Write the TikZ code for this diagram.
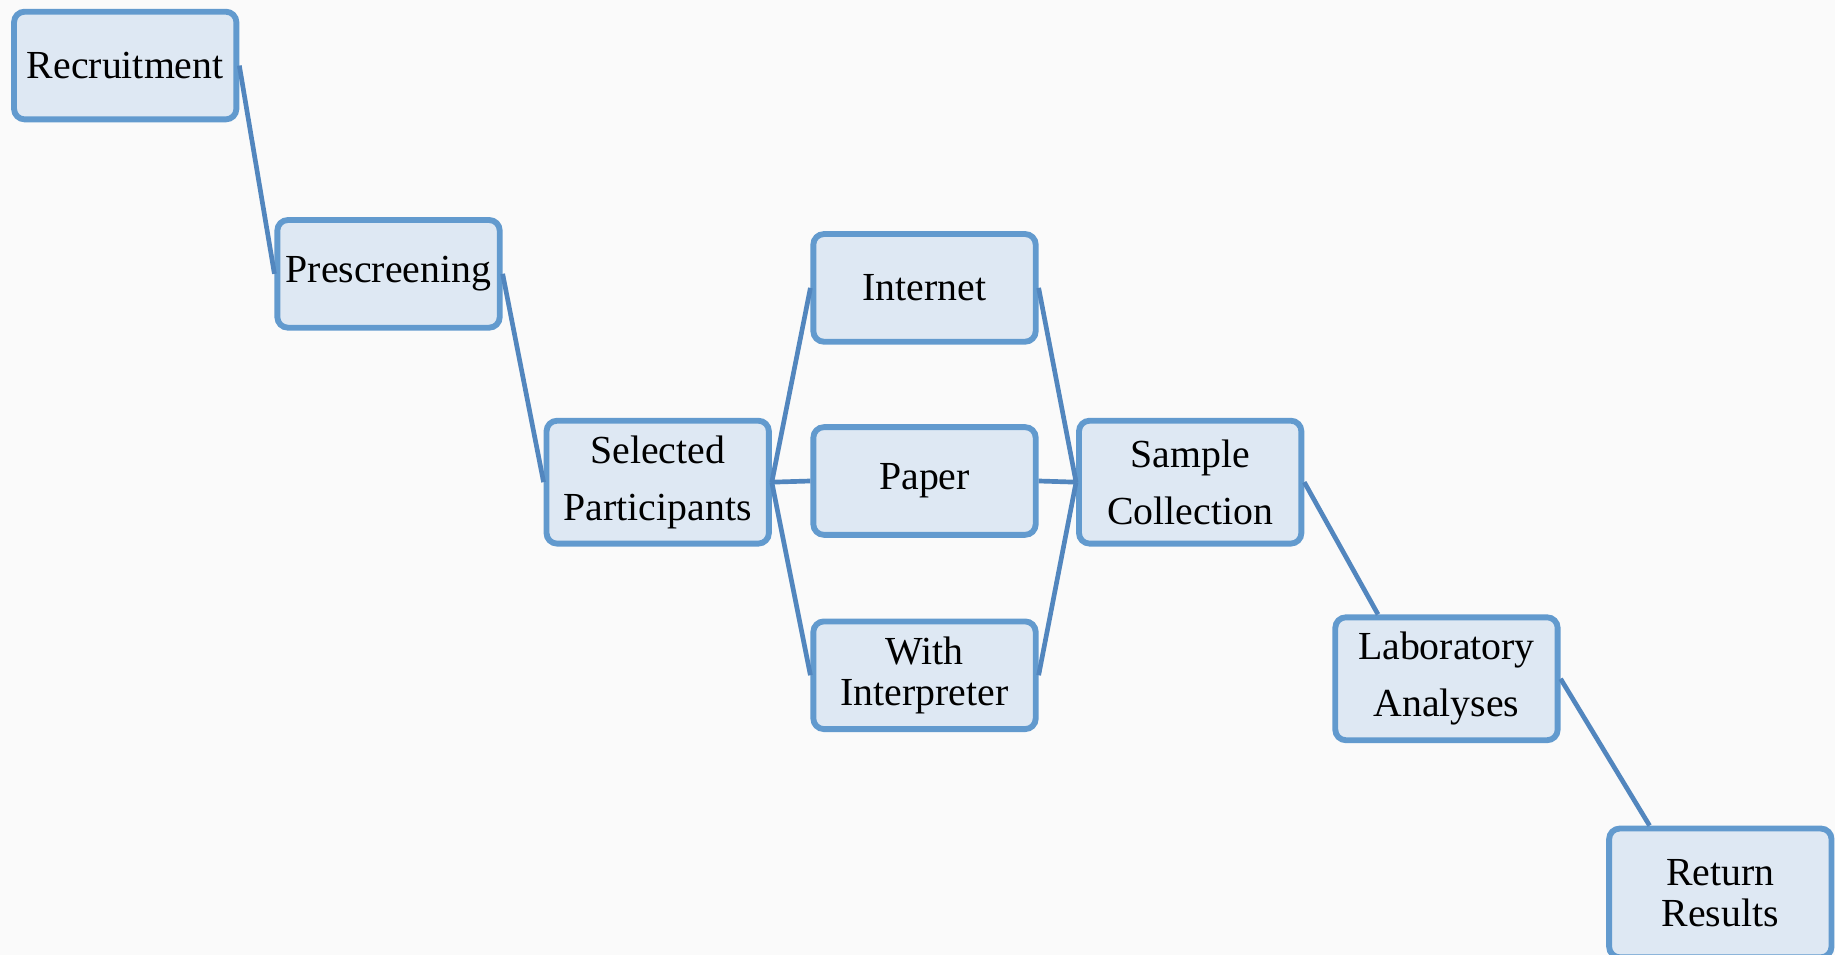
\documentclass[tikz,border=0pt]{standalone}
\usepackage{fontspec}
\setmainfont{Liberation Serif}
\usetikzlibrary{calc}
\definecolor{boxfill}{RGB}{222,232,243}
\definecolor{boxline}{RGB}{98,154,206}
\definecolor{conn}{RGB}{82,134,190}
\definecolor{bg}{RGB}{250,250,250}
\begin{document}
\begin{tikzpicture}[x=1pt,y=-1pt,
  box/.style={draw=boxline, fill=boxfill, line width=5pt, rounded corners=9pt,
    minimum width=190pt, minimum height=92pt, inner sep=0pt, align=center,
    font=\fontsize{34}{49}\selectfont},
  tall/.style={minimum height=105pt},
  tight/.style={font=\fontsize{34}{35}\selectfont},
  link/.style={draw=conn, line width=4pt}]
\fill[bg] (0,0) rectangle (1568,816);
\useasboundingbox (0,0) rectangle (1568,816);
\clip (0,0) rectangle (1568,816);
\node[box] (rec) at (107,56) {Recruitment};
\node[box] (pre) at (332,234) {Prescreening};
\node[box,tall] (sel) at (562,412) {Selected\\Participants};
\node[box] (int) at (790,246) {Internet};
\node[box] (pap) at (790,411) {Paper};
\node[box,tight] (wit) at (790,577) {With\\Interpreter};
\node[box,tall] (sam) at (1017,412) {Sample\\Collection};
\node[box,tall] (lab) at (1236,580) {Laboratory\\Analyses};
\node[box,tight,minimum height=110pt] (ret) at (1470,763) {Return\\Results};
\draw[link] (rec.east) -- (pre.west);
\draw[link] (pre.east) -- (sel.west);
\draw[link] (sel.east) -- (int.west);
\draw[link] (sel.east) -- (pap.west);
\draw[link] (sel.east) -- (wit.west);
\draw[link] (int.east) -- (sam.west);
\draw[link] (pap.east) -- (sam.west);
\draw[link] (wit.east) -- (sam.west);
\draw[link] (sam.east) -- ($(lab.north west)!0.2!(lab.north east)$);
\draw[link] (lab.east) -- ($(ret.north west)!0.19!(ret.north east)$);
\end{tikzpicture}
\end{document}
